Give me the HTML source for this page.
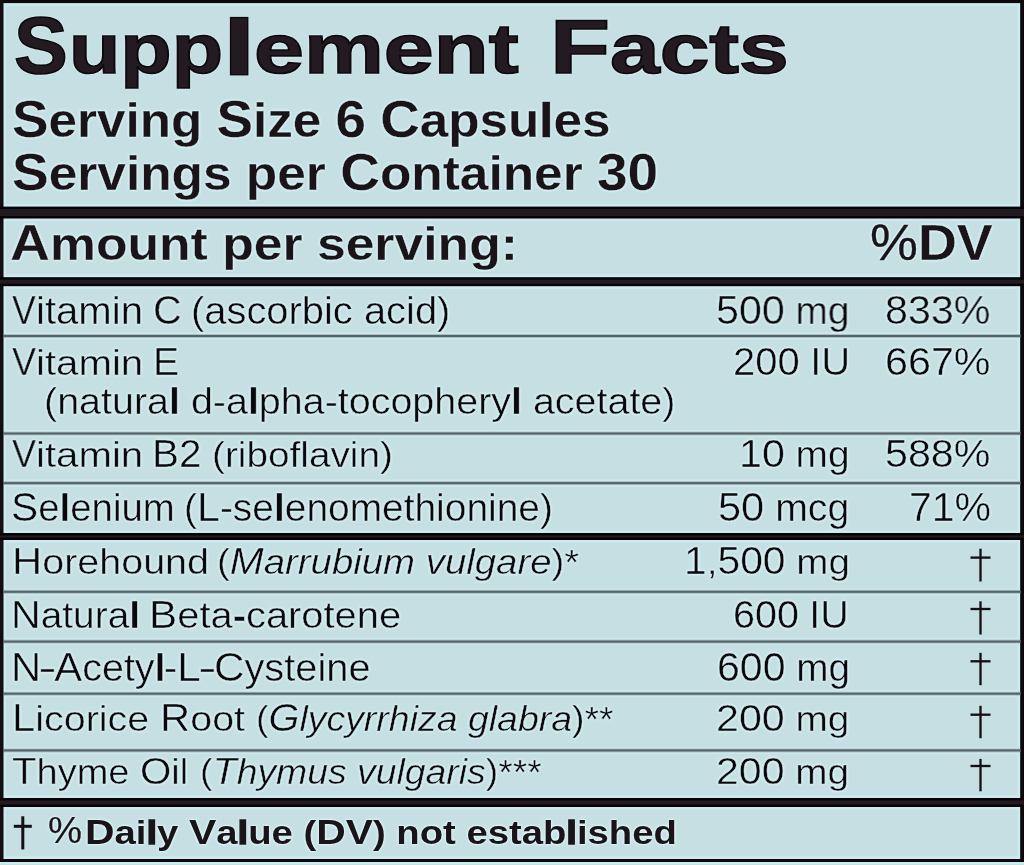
<!DOCTYPE html>
<html lang="en"><head><meta charset="utf-8"><title>Supplement Facts</title>
<style>
html,body{margin:0;padding:0}
body{width:1024px;height:865px;background:#c5dfe3;position:relative;overflow:hidden;font-family:"Liberation Sans",sans-serif}
.t{position:absolute;white-space:nowrap;line-height:1;font-family:"Liberation Sans",sans-serif;transform-origin:0 0;will-change:transform;color:#1a1419;text-shadow:0 0 2.5px #eaffff,0 0 3px #e2fdff}
.t b{font-weight:700}.t i{font-style:italic}.t span.s{line-height:1}
.title{font-weight:700;-webkit-text-stroke:1.6px #0e090d;color:#241b22;}
.title .s{font-size:0.9091em}
.bold{font-weight:700;-webkit-text-stroke:0.3px #c5dfe3;}
.bold .s{font-size:0.9346em}
.bold2{font-weight:700;}
.bold2 .s{font-size:0.9346em}
.pct{font-weight:400;-webkit-text-stroke:0.2px #1a1419;}
.pct .s{font-size:1.0000em}
.reg{font-weight:400;-webkit-text-stroke:0.5px #c5dfe3;color:#0b070a;}
.reg .s{font-size:0.9434em}
.hy{display:inline-block;transform:scaleX(1.4);font-size:0.9434em}
.bold b{-webkit-text-stroke:0.5px #1a1419}
.bold2 b{-webkit-text-stroke:1.3px #1a1419}
</style></head><body>
<svg width="1024" height="865" viewBox="0 0 1024 865" style="position:absolute;left:0;top:0"><rect x="0" y="3.1" width="1024" height="2.6" fill="#cdeaee"/><rect x="3.5" y="0" width="2.6" height="862" fill="#cdeaee"/><rect x="1017.6" y="0" width="2.6" height="862" fill="#cdeaee"/><rect x="0" y="856.4" width="1024" height="2.6" fill="#cdeaee"/><rect x="0" y="862" width="1024" height="2.2" fill="#cdeaee"/><rect x="0" y="204.00" width="1024" height="17.10" fill="#cdeaee"/><rect x="0" y="274.60" width="1024" height="14.20" fill="#cdeaee"/><rect x="0" y="530.40" width="1024" height="12.20" fill="#cdeaee"/><rect x="0" y="795.40" width="1024" height="14.20" fill="#cdeaee"/><rect x="3" y="332.30" width="1018" height="7.4" fill="#cdeaee" opacity="0.8"/><rect x="3" y="429.80" width="1018" height="7.4" fill="#cdeaee" opacity="0.8"/><rect x="3" y="479.40" width="1018" height="7.4" fill="#cdeaee" opacity="0.8"/><rect x="3" y="588.10" width="1018" height="7.4" fill="#cdeaee" opacity="0.8"/><rect x="3" y="637.90" width="1018" height="7.4" fill="#cdeaee" opacity="0.8"/><rect x="3" y="690.00" width="1018" height="7.4" fill="#cdeaee" opacity="0.8"/><rect x="3" y="746.70" width="1018" height="7.4" fill="#cdeaee" opacity="0.8"/><rect x="0" y="0" width="1024" height="3.1" fill="#0c080b"/><rect x="0" y="0" width="3.5" height="862" fill="#140e13"/><rect x="1020.2" y="0" width="3.8" height="862" fill="#0c080b"/><rect x="0" y="859" width="1024" height="3" fill="#0c080b"/><rect x="0" y="206.60" width="1024" height="11.90" fill="#050305"/><rect x="0" y="209.00" width="1024" height="7.10" fill="#231a21"/><rect x="0" y="277.20" width="1024" height="9.00" fill="#050305"/><rect x="0" y="279.60" width="1024" height="4.20" fill="#231a21"/><rect x="0" y="533.00" width="1024" height="7.00" fill="#050305"/><rect x="0" y="535.40" width="1024" height="2.20" fill="#231a21"/><rect x="0" y="798.00" width="1024" height="9.00" fill="#050305"/><rect x="0" y="800.40" width="1024" height="4.20" fill="#231a21"/><rect x="3" y="334.10" width="1018" height="3.8" fill="#4a5659" opacity="0.30"/><rect x="3" y="335.00" width="1018" height="2" fill="#566367"/><rect x="3" y="431.60" width="1018" height="3.8" fill="#4a5659" opacity="0.30"/><rect x="3" y="432.50" width="1018" height="2" fill="#566367"/><rect x="3" y="481.20" width="1018" height="3.8" fill="#4a5659" opacity="0.30"/><rect x="3" y="482.10" width="1018" height="2" fill="#566367"/><rect x="3" y="589.90" width="1018" height="3.8" fill="#4a5659" opacity="0.30"/><rect x="3" y="590.80" width="1018" height="2" fill="#566367"/><rect x="3" y="639.70" width="1018" height="3.8" fill="#4a5659" opacity="0.30"/><rect x="3" y="640.60" width="1018" height="2" fill="#566367"/><rect x="3" y="691.80" width="1018" height="3.8" fill="#4a5659" opacity="0.30"/><rect x="3" y="692.70" width="1018" height="2" fill="#566367"/><rect x="3" y="748.50" width="1018" height="3.8" fill="#4a5659" opacity="0.30"/><rect x="3" y="749.40" width="1018" height="2" fill="#566367"/><rect x="229.9" y="16.9" width="18.5" height="58.5" fill="#0e090d"/><rect x="231.3" y="18.3" width="15.7" height="55.7" fill="#241b22"/><rect x="979.35" y="548.70" width="2.30" height="32.80" fill="#150f14"/><rect x="970.50" y="556.45" width="20.00" height="2.30" fill="#150f14"/><rect x="979.35" y="601.30" width="2.30" height="33.20" fill="#150f14"/><rect x="970.50" y="607.85" width="20.00" height="2.30" fill="#150f14"/><rect x="979.35" y="652.80" width="2.30" height="32.40" fill="#150f14"/><rect x="970.50" y="660.15" width="20.00" height="2.30" fill="#150f14"/><rect x="979.35" y="705.80" width="2.30" height="32.40" fill="#150f14"/><rect x="970.50" y="713.55" width="20.00" height="2.30" fill="#150f14"/><rect x="979.35" y="758.90" width="2.30" height="32.40" fill="#150f14"/><rect x="970.50" y="764.85" width="20.00" height="2.30" fill="#150f14"/><rect x="21.30" y="816.30" width="3.00" height="33.10" fill="#150f14"/><rect x="13.80" y="824.80" width="18.00" height="3.00" fill="#150f14"/></svg>
<div class="t title" style="left:13.58px;top:6.20px;font-size:80.0px;transform:scaleX(1.0082)">S</div>
<div class="t title" style="left:68.94px;top:8.40px;font-size:76.81px;transform:scaleX(1.2037)"><span class="s">upp</span></div>
<div class="t title" style="left:254.33px;top:8.40px;font-size:76.81px;transform:scaleX(1.2867)"><span class="s">ement</span></div>
<div class="t title" style="left:550.48px;top:8.40px;font-size:76.81px;transform:scaleX(1.2789)">F<span class="s">acts</span></div>
<div class="t bold" style="left:11.90px;top:93.02px;font-size:52.17px;transform:scaleX(1.0504)">S<span class="s">erving </span>S<span class="s">ize </span>6<span class="s"> </span>C<span class="s">apsu<b>l</b>es</span></div>
<div class="t bold" style="left:11.89px;top:146.02px;font-size:52.17px;transform:scaleX(1.0546)">S<span class="s">ervings per </span>C<span class="s">ontainer </span>30</div>
<div class="t bold" style="left:10.48px;top:218.77px;font-size:49.86px;transform:scaleX(1.1093)">A<span class="s">mount per serving:</span></div>
<div class="t bold" style="left:869.95px;top:218.03px;font-size:50.14px;transform:scaleX(1.0748)"><span style="font-weight:400;-webkit-text-stroke:0.3px #1a1419">%</span>DV</div>
<div class="t reg" style="left:12.23px;top:289.55px;font-size:41.01px;transform:scaleX(0.8680)">V</div>
<div class="t reg" style="left:36.09px;top:289.55px;font-size:41.01px;transform:scaleX(1.0371)"><span class="s">itamin</span></div>
<div class="t reg" style="left:152.76px;top:289.55px;font-size:41.01px;transform:scaleX(0.9680)">C</div>
<div class="t reg" style="left:190.66px;top:289.55px;font-size:41.01px;transform:scaleX(1.0315)"><span class="s">(ascorbic acid)</span></div>
<div class="t reg" style="left:716.41px;top:289.50px;font-size:41.3px;transform:scaleX(0.9961)">500<span class="s"> mg</span></div>
<div class="t reg" style="left:885.11px;top:289.50px;font-size:41.3px;transform:scaleX(0.9961)">833%</div>
<div class="t reg" style="left:12.16px;top:343.29px;font-size:38.12px;transform:scaleX(0.9435)">V</div>
<div class="t reg" style="left:35.85px;top:343.29px;font-size:38.12px;transform:scaleX(1.1178)"><span class="s">itamin</span></div>
<div class="t reg" style="left:152.87px;top:343.29px;font-size:38.12px;transform:scaleX(1.0316)">E</div>
<div class="t reg" style="left:43.63px;top:381.96px;font-size:38.33px;transform:scaleX(1.0908)"><span class="s">(natura<b>l</b> d-a<b>l</b>pha-tocophery<b>l</b> acetate)</span></div>
<div class="t reg" style="left:733.12px;top:343.24px;font-size:38.41px;transform:scaleX(1.0411)">200<span class="s"> </span>IU</div>
<div class="t reg" style="left:885.27px;top:343.20px;font-size:38.7px;transform:scaleX(1.0663)">667%</div>
<div class="t reg" style="left:12.16px;top:435.39px;font-size:38.12px;transform:scaleX(0.9435)">V</div>
<div class="t reg" style="left:35.85px;top:435.39px;font-size:38.12px;transform:scaleX(1.1178)"><span class="s">itamin</span></div>
<div class="t reg" style="left:152.00px;top:435.39px;font-size:38.12px;transform:scaleX(1.0625)">B2</div>
<div class="t reg" style="left:212.37px;top:435.39px;font-size:38.12px;transform:scaleX(1.0781)"><span class="s">(riboflavin)</span></div>
<div class="t reg" style="left:738.99px;top:435.33px;font-size:38.55px;transform:scaleX(1.0684)">10<span class="s"> mg</span></div>
<div class="t reg" style="left:884.96px;top:435.33px;font-size:38.55px;transform:scaleX(1.0695)">588%</div>
<div class="t reg" style="left:11.39px;top:486.61px;font-size:40.58px;transform:scaleX(1.0032)">S<span class="s">e<b>l</b>enium</span></div>
<div class="t reg" style="left:183.85px;top:486.61px;font-size:40.58px;transform:scaleX(1.0164)"><span class="s">(</span>L<span class="s">-se<b>l</b>enomethionine)</span></div>
<div class="t reg" style="left:717.96px;top:486.59px;font-size:40.72px;transform:scaleX(1.0210)">50<span class="s"> mcg</span></div>
<div class="t reg" style="left:908.88px;top:486.61px;font-size:40.58px;transform:scaleX(1.0104)">71%</div>
<div class="t reg" style="left:11.66px;top:543.38px;font-size:37.54px;transform:scaleX(1.1146)">H<span class="s">orehound</span></div>
<div class="t reg" style="left:217.35px;top:543.38px;font-size:37.54px;transform:scaleX(1.0836)"><span class="s">(</span><i>M<span class="s">arrubium vulgare</span></i><span class="s">)*</span></div>
<div class="t reg" style="left:684.07px;top:543.32px;font-size:37.97px;transform:scaleX(1.0757)">1<span class="s">,</span>500<span class="s"> mg</span></div>
<div class="t reg" style="left:11.36px;top:595.78px;font-size:38.84px;transform:scaleX(1.0600)">N<span class="s">atura<b>l</b></span></div>
<div class="t reg" style="left:148.74px;top:595.78px;font-size:38.84px;transform:scaleX(1.0889)">B<span class="s">eta<b>-</b>carotene</span></div>
<div class="t reg" style="left:733.15px;top:595.83px;font-size:38.55px;transform:scaleX(1.0241)">600<span class="s"> </span>IU</div>
<div class="t reg" style="left:11.46px;top:646.94px;font-size:40.43px;transform:scaleX(1.0345)">N<span class="hy">-</span>A<span class="s">cety<b>l</b></span></div>
<div class="t reg" style="left:164.16px;top:646.94px;font-size:40.43px;transform:scaleX(1.0438)"><span class="s">-</span>L<span class="hy">-</span>C<span class="s">ysteine</span></div>
<div class="t reg" style="left:716.57px;top:646.94px;font-size:40.43px;transform:scaleX(1.0151)">600<span class="s"> mg</span></div>
<div class="t reg" style="left:12.30px;top:700.12px;font-size:37.97px;transform:scaleX(1.1005)">L<span class="s">icorice </span>R<span class="s">oot</span></div>
<div class="t reg" style="left:256.26px;top:700.12px;font-size:37.97px;transform:scaleX(1.0457)"><span class="s">(</span><i>G<span class="s">lycyrrhiza glabra</span></i><span class="s">)**</span></div>
<div class="t reg" style="left:716.41px;top:700.16px;font-size:37.68px;transform:scaleX(1.0932)">200<span class="s"> mg</span></div>
<div class="t reg" style="left:12.43px;top:753.36px;font-size:37.68px;transform:scaleX(1.0689)">T<span class="s">hyme </span>O<span class="s">il</span></div>
<div class="t reg" style="left:199.95px;top:753.36px;font-size:37.68px;transform:scaleX(1.0514)"><span class="s">(</span><i>T<span class="s">hymus vulgaris</span></i><span class="s">)***</span></div>
<div class="t reg" style="left:716.41px;top:753.38px;font-size:37.54px;transform:scaleX(1.0932)">200<span class="s"> mg</span></div>
<div class="t pct" style="left:47.72px;top:812.12px;font-size:37.25px;transform:scaleX(1.0274)">%</div>
<div class="t bold2" style="left:85.17px;top:813.67px;font-size:35.07px;transform:scaleX(1.1668)">D<span class="s">ai<b>l</b>y </span>V<span class="s">a<b>l</b>ue (</span>DV<span class="s">) not estab<b>l</b>ished</span></div>
</body></html>
